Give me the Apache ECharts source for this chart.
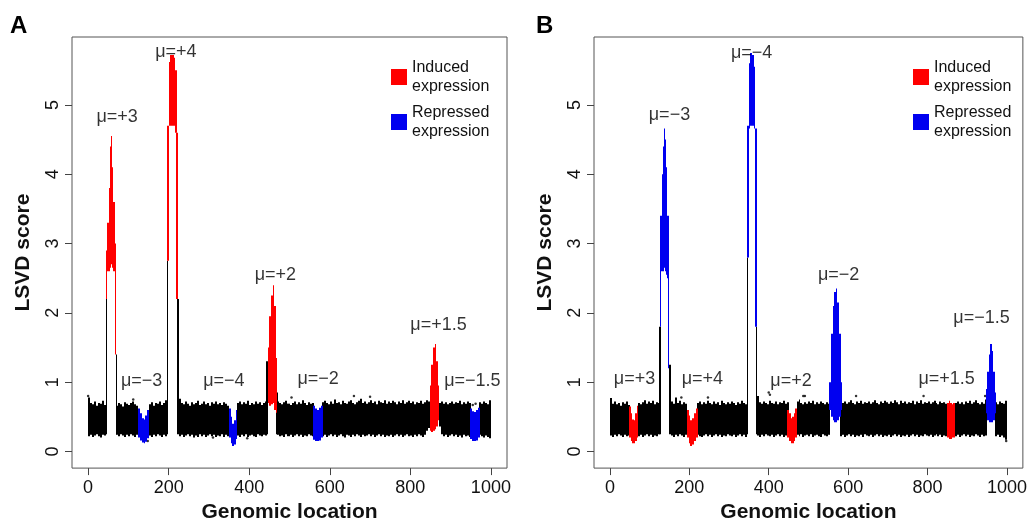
<!DOCTYPE html>
<html>
<head>
<meta charset="utf-8">
<script src="https://cdn.jsdelivr.net/npm/echarts@6/dist/echarts.min.js"></script>
<style>
html,body{margin:0;padding:0;background:#fff;}
#chart{width:1030px;height:528px;}
</style>
</head>
<body>
<div id="chart"></div>
<script>
// ---------------- DATA ----------------
// Background noise band, 5-unit bins (bin i covers [5i, 5i+5]); null = no points there
const bandHiA = [
0.78,0.7,0.68,0.72,0.66,0.7,0.69,0.73,0.67,null,
null,null,null,null,0.66,0.7,0.68,0.65,0.71,0.69,
0.67,0.7,0.72,0.68,0.66,null,null,null,null,null,
0.68,0.71,0.66,0.7,0.69,0.72,0.67,0.7,0.74,null,
null,null,null,null,null,0.76,0.7,0.68,0.72,0.69,
0.66,0.71,0.68,0.7,0.73,0.67,0.69,0.72,0.68,0.7,
0.66,0.71,0.69,0.72,0.68,0.7,0.67,0.71,0.69,0.66,
null,null,null,null,0.7,0.72,0.68,0.71,0.69,0.73,
0.67,0.7,0.68,0.72,0.69,0.71,0.67,0.7,0.72,null,
null,null,null,null,0.72,0.7,0.68,0.71,0.73,0.69,
0.67,0.7,0.72,0.68,0.71,0.69,0.74,0.7,0.67,0.71,
0.69,0.7,null,null,null,null,0.71,0.73,0.7,0.68,
0.72,0.69,0.75,0.7,0.71,0.68,0.73,0.7,0.69,0.72,
0.74,0.7,0.68,0.71,0.73,0.76,0.7,0.72,0.69,0.71,
0.74,0.7,0.72,0.68,0.73,0.71,0.7,0.74,0.69,0.72,
0.7,0.73,0.71,0.68,0.72,0.7,0.74,0.69,0.71,0.73,
0.7,0.72,0.68,0.71,0.7,0.73,0.69,0.71,0.74,0.72,
null,null,null,null,0.7,0.72,0.69,0.71,0.68,0.7,
0.72,0.69,0.71,0.7,0.73,0.68,0.71,0.69,0.72,0.7,
null,null,null,null,0.71,0.69,0.72,0.7,0.68,0.74
];
const bandLoA = [
0.22,0.24,0.21,0.23,0.25,0.22,0.2,0.24,0.23,null,
null,null,null,null,0.24,0.22,0.25,0.23,0.21,0.24,
0.22,0.25,0.23,0.21,0.24,null,null,null,null,null,
0.23,0.21,0.24,0.22,0.25,0.23,0.21,0.24,0.22,null,
null,null,null,null,null,0.22,0.24,0.21,0.23,0.25,
0.22,0.24,0.2,0.23,0.21,0.25,0.22,0.24,0.21,0.23,
0.25,0.22,0.24,0.21,0.23,0.22,0.25,0.21,0.24,0.22,
null,null,null,null,0.23,0.21,0.24,0.22,0.25,0.21,
0.23,0.24,0.22,0.21,0.25,0.23,0.22,0.24,0.23,null,
null,null,null,null,0.24,0.22,0.23,0.21,0.25,0.22,
0.24,0.21,0.23,0.25,0.22,0.24,0.21,0.23,0.22,0.25,
0.23,0.22,null,null,null,null,0.22,0.24,0.21,0.23,
0.25,0.22,0.24,0.21,0.23,0.25,0.22,0.2,0.24,0.23,
0.21,0.24,0.22,0.25,0.23,0.21,0.24,0.22,0.23,0.25,
0.22,0.24,0.21,0.23,0.25,0.22,0.24,0.21,0.23,0.22,
0.24,0.21,0.23,0.25,0.22,0.24,0.21,0.23,0.25,0.22,
0.23,0.21,0.24,0.22,0.25,0.23,0.21,0.24,0.3,0.34,
null,null,null,null,0.36,0.25,0.22,0.24,0.21,0.23,
0.25,0.22,0.24,0.21,0.23,0.2,0.24,0.22,0.23,0.21,
null,null,null,null,0.24,0.22,0.2,0.23,0.21,0.19
];
const bandHiB = [
0.77,0.69,0.72,0.68,0.7,0.66,0.71,0.69,0.72,0.67,
null,null,null,null,0.7,0.68,0.71,0.74,0.69,0.72,
0.7,0.73,0.68,0.71,0.7,null,null,null,null,null,
null,0.72,0.69,0.78,0.7,0.73,0.68,0.71,0.69,null,
null,null,null,null,0.7,0.72,0.68,0.71,0.69,0.73,
0.7,0.68,0.72,0.69,0.71,0.67,0.73,0.7,0.68,0.71,
0.69,0.72,0.7,0.67,0.71,0.69,0.73,0.7,0.68,null,
null,null,null,null,0.8,0.71,0.69,0.72,0.7,0.68,
0.73,0.7,0.69,0.72,0.68,0.71,0.7,0.73,0.69,0.71,
null,null,null,null,0.72,0.75,0.7,0.68,0.71,0.69,
0.72,0.7,0.73,0.68,0.71,0.69,0.72,0.7,0.68,0.71,
0.69,null,null,null,null,null,0.73,0.7,0.72,0.69,
0.71,0.74,0.7,0.68,0.72,0.7,0.73,0.69,0.71,0.7,
0.72,0.69,0.71,0.74,0.7,0.68,0.72,0.7,0.73,0.71,
0.69,0.72,0.7,0.74,0.71,0.68,0.73,0.7,0.72,0.69,
0.71,0.7,0.73,0.68,0.72,0.7,0.74,0.69,0.71,0.7,
0.72,0.69,0.71,0.73,0.7,0.68,0.72,0.7,0.71,0.69,
null,null,null,null,0.7,0.72,0.69,0.71,0.68,0.72,
0.7,0.73,0.69,0.71,0.74,0.7,0.68,0.71,0.69,0.72,
null,null,null,null,0.71,0.68,0.72,0.7,0.69,0.73
];
const bandLoB = [
0.23,0.21,0.24,0.22,0.25,0.23,0.21,0.24,0.22,0.23,
null,null,null,null,0.22,0.24,0.21,0.23,0.25,0.22,
0.24,0.21,0.23,0.22,0.25,null,null,null,null,null,
null,0.23,0.21,0.24,0.22,0.25,0.23,0.21,0.24,null,
null,null,null,null,0.24,0.22,0.21,0.23,0.25,0.22,
0.24,0.21,0.23,0.25,0.22,0.24,0.21,0.23,0.22,0.25,
0.23,0.22,0.24,0.21,0.23,0.25,0.22,0.24,0.21,null,
null,null,null,null,0.23,0.21,0.24,0.22,0.25,0.23,
0.22,0.24,0.21,0.23,0.25,0.22,0.24,0.21,0.23,0.22,
null,null,null,null,0.24,0.22,0.25,0.21,0.23,0.24,
0.22,0.25,0.21,0.23,0.24,0.22,0.21,0.25,0.23,0.22,
0.24,null,null,null,null,null,0.22,0.24,0.21,0.23,
0.25,0.22,0.24,0.21,0.23,0.22,0.24,0.21,0.25,0.23,
0.22,0.24,0.21,0.23,0.25,0.22,0.24,0.21,0.23,0.22,
0.24,0.21,0.23,0.25,0.22,0.24,0.21,0.23,0.22,0.24,
0.21,0.23,0.25,0.22,0.24,0.21,0.23,0.22,0.25,0.23,
0.22,0.24,0.21,0.23,0.25,0.22,0.24,0.21,0.23,0.22,
null,null,null,null,0.22,0.24,0.21,0.23,0.25,0.22,
0.24,0.21,0.23,0.22,0.25,0.23,0.21,0.24,0.22,0.23,
null,null,null,null,0.22,0.24,0.21,0.23,0.2,0.17
];

// Signal clusters: [fromLocation, toLocation, lowScore, highScore, class]
// class: 0 = not called, 1 = induced, 2 = repressed
const clustersA = [
  // mu=+3
  [44,47,0.25,2.2,0],[45,48,2.2,2.7,1],
  [45,48,2.6,2.9,1],[48,51,2.6,3.3,1],[51,54,2.6,3.8,1],[54,57,2.65,4.4,1],[57,60,2.7,4.55,1],[60,63,2.65,4.1,1],[63,66,2.6,3.6,1],[66,69,2.5,3.0,1],
  [66,69,1.4,2.6,1],[68,71,0.25,1.4,0],
  // mu=-3
  [125,130,0.2,0.62,2],[130,134,0.16,0.55,2],[134,138,0.13,0.48,2],[138,142,0.12,0.46,2],[142,146,0.14,0.52,2],[146,150,0.19,0.6,2],
  // mu=+4
  [195,199,0.25,2.75,0],[196,200,2.75,4.7,1],
  [200,204,4.7,5.62,1],[204,208,4.7,5.72,1],[208,212,4.7,5.72,1],[212,216,4.7,5.68,1],[216,220,4.6,5.5,1],
  [219,223,2.2,4.6,1],[220,225,0.25,2.2,0],
  // mu=-4
  [350,354,0.2,0.62,2],[354,358,0.12,0.5,2],[358,362,0.08,0.4,2],[362,366,0.1,0.45,2],[366,370,0.18,0.6,2],
  // mu=+2
  [442,447,0.25,1.3,0],
  [446,450,0.7,1.5,1],[450,454,0.66,1.95,1],[454,458,0.68,2.25,1],[458,462,0.7,2.4,1],[462,466,0.6,2.1,1],[466,469,0.56,1.35,1],
  [467,471,0.25,0.85,0],
  // mu=-2
  [558,563,0.17,0.66,2],[563,568,0.15,0.62,2],[568,573,0.15,0.6,2],[573,578,0.16,0.63,2],[578,582,0.2,0.66,2],
  // mu=+1.5
  [848,852,0.3,0.95,1],[852,856,0.28,1.25,1],[856,860,0.3,1.5,1],[860,864,0.32,1.55,1],[864,868,0.36,1.3,1],[868,871,0.45,0.95,1],
  // mu=-1.5
  [948,953,0.18,0.62,2],[953,958,0.15,0.58,2],[958,963,0.15,0.57,2],[963,968,0.16,0.6,2],[968,972,0.2,0.63,2]
];
const clustersB = [
  // mu=+3
  [48,52,0.2,0.65,1],[52,56,0.15,0.55,1],[56,60,0.12,0.46,1],[60,64,0.12,0.45,1],[64,68,0.15,0.55,1],[68,71,0.2,0.66,1],
  // mu=-3
  [124,128,0.25,1.8,0],[125,129,1.8,2.7,2],
  [127,130,2.6,3.4,2],[130,133,2.6,4.0,2],[133,136,2.6,4.4,2],[136,139,2.65,4.66,2],[139,142,2.6,4.5,2],[142,145,2.55,4.1,2],[145,148,2.5,3.4,2],
  [146,150,1.2,2.8,2],[150,155,0.25,1.25,0],
  // mu=+4
  [194,198,0.2,0.6,1],[198,203,0.12,0.52,1],[203,208,0.08,0.45,1],[208,213,0.1,0.48,1],[213,218,0.15,0.55,1],[218,222,0.2,0.62,1],
  // mu=-4
  [345,349,0.25,2.8,0],[346,350,2.8,4.7,2],
  [350,354,4.66,5.6,2],[354,358,4.7,5.75,2],[358,362,4.7,5.72,2],[362,366,4.66,5.55,2],
  [366,370,1.8,4.66,2],[367,371,0.25,1.8,0],
  // mu=+2
  [447,451,0.2,0.6,1],[451,455,0.15,0.55,1],[455,459,0.12,0.48,1],[459,463,0.12,0.5,1],[463,467,0.15,0.55,1],[467,471,0.2,0.62,1],
  // mu=-2
  [551,555,0.25,0.8,0],
  [553,557,0.6,1.0,2],[557,561,0.5,1.7,2],[561,565,0.45,2.1,2],[565,569,0.42,2.3,2],[569,573,0.42,2.35,2],[573,577,0.45,2.15,2],[577,581,0.5,1.7,2],[581,584,0.6,1.0,2],
  [582,586,0.25,0.7,0],
  // mu=+1.5
  [849,853,0.2,0.7,1],[853,857,0.18,0.73,1],[857,861,0.18,0.7,1],[861,865,0.2,0.68,1],[865,870,0.2,0.7,1],
  // mu=-1.5
  [944,948,0.25,0.75,0],
  [946,950,0.55,0.9,2],[950,954,0.45,1.15,2],[954,958,0.42,1.4,2],[958,962,0.42,1.55,2],[962,966,0.42,1.45,2],[966,970,0.45,1.15,2],[970,973,0.55,0.85,2],
  [971,975,0.25,0.7,0]
];

// Stray single points
const outliersA = [[0,0.8],[112,0.75],[148,0.15],[310,0.2],[395,0.19],[505,0.78],[660,0.8],[700,0.79],[955,0.67],[962,0.69]];
const outliersB = [[400,0.85],[403,0.82],[180,0.78],[247,0.78],[487,0.8],[491,0.8],[620,0.8],[790,0.8],[945,0.8],[998,0.15]];

// Annotations: text, location, score
const labelTextA = ['μ=+3','μ=+4','μ=−3','μ=−4','μ=+2','μ=−2','μ=+1.5','μ=−1.5'];
const labelXA    = [72, 218, 133, 337, 465, 571, 870, 954];
const labelYA    = [4.83, 5.76, 1.01, 1.01, 2.54, 1.04, 1.83, 1.01];
const labelTextB = ['μ=+3','μ=−3','μ=+4','μ=−4','μ=+2','μ=−2','μ=+1.5','μ=−1.5'];
const labelXB    = [62, 150, 233, 357, 456, 576, 848, 936];
const labelYB    = [1.04, 4.85, 1.04, 5.75, 1.01, 2.54, 1.04, 1.92];

const xTicks = [0, 200, 400, 600, 800, 1000];
const yTicks = [0, 1, 2, 3, 4, 5];
const classNames = ['', 'Induced expression', 'Repressed expression'];
const BIN = 5;

// ---------------- CHART ----------------
const FONT = '"Liberation Sans", Arial, Helvetica, sans-serif';
const RED = '#ff0000', BLUE = '#0000f0', BLACK = '#000000';

function bandData(hi, lo) {
  const out = [];
  for (let i = 0; i < hi.length; i++) {
    if (hi[i] == null || lo[i] == null) continue;
    out.push([i * BIN, (i + 1) * BIN, lo[i], hi[i]]);
  }
  return out;
}
function clusterData(list, cls) {
  return list.filter(d => d[4] === cls).map(d => [d[0], d[1], d[2], d[3]]);
}
function renderRect(params, api) {
  const x0 = api.value(0), x1 = api.value(1), lo = api.value(2), hi = api.value(3);
  const p0 = api.coord([x0, hi]);
  const p1 = api.coord([x1, lo]);
  const xa = Math.round(p0[0]), xb = Math.round(p1[0]);
  return {
    type: 'rect',
    shape: { x: xa, y: p0[1], width: Math.max(xb - xa, 1), height: Math.max(p1[1] - p0[1], 1) },
    style: { fill: api.visual('color') }
  };
}
function rectSeries(name, idx, data, color, z) {
  return {
    type: 'custom', name: name, xAxisIndex: idx, yAxisIndex: idx,
    renderItem: renderRect, data: data, z: z,
    encode: { x: [0, 1], y: [2, 3] },
    itemStyle: { color: color }, clip: true, silent: true
  };
}
function labelSeries(idx, texts, xs, ys) {
  return {
    type: 'scatter', xAxisIndex: idx, yAxisIndex: idx, symbolSize: 0, silent: true, z: 10,
    data: texts.map((t, i) => ({ value: [xs[i], ys[i]], name: t })),
    label: { show: true, position: 'inside', formatter: '{b}', fontSize: 18, color: '#000', fontFamily: FONT }
  };
}
function outlierSeries(idx, pts) {
  return {
    type: 'scatter', xAxisIndex: idx, yAxisIndex: idx, symbolSize: 2.5, silent: true, z: 3,
    itemStyle: { color: BLACK }, data: pts
  };
}

const grids = [
  { left: 72, top: 37, width: 435, height: 436 },
  { left: 594, top: 37, width: 435, height: 436 }
];

function xAxis(idx) {
  return {
    gridIndex: idx, type: 'value', min: -40, max: 1040,
    axisLine: { show: false, onZero: false }, splitLine: { show: false },
    axisTick: { show: true, inside: false, customValues: xTicks, length: 7, lineStyle: { color: '#444' } },
    axisLabel: { customValues: xTicks, formatter: v => String(v), fontSize: 18, color: '#111', margin: 11, fontFamily: FONT },
    name: 'Genomic location', nameLocation: 'middle', nameGap: 31,
    nameTextStyle: { fontSize: 21, fontWeight: 'bold', color: '#111', fontFamily: FONT }
  };
}
function yAxis(idx) {
  return {
    gridIndex: idx, type: 'value', min: -0.24, max: 5.98,
    axisLine: { show: false, onZero: false }, splitLine: { show: false },
    axisTick: { show: true, inside: false, customValues: yTicks, length: 7, lineStyle: { color: '#444' } },
    axisLabel: { customValues: yTicks, formatter: v => String(v), fontSize: 18, color: '#111', rotate: 90, margin: 10, fontFamily: FONT },
    name: 'LSVD score', nameLocation: 'middle', nameGap: 38, nameRotate: 90,
    nameTextStyle: { fontSize: 21, fontWeight: 'bold', color: '#111', fontFamily: FONT }
  };
}

const series = [];
[[bandHiA, bandLoA, clustersA, outliersA, labelTextA, labelXA, labelYA],
 [bandHiB, bandLoB, clustersB, outliersB, labelTextB, labelXB, labelYB]].forEach((p, idx) => {
  series.push(rectSeries('noise' + idx, idx, bandData(p[0], p[1]), BLACK, 2));
  series.push(rectSeries('noise' + idx, idx, clusterData(p[2], 0), BLACK, 2));
  series.push(outlierSeries(idx, p[3]));
  series.push(rectSeries(classNames[1], idx, clusterData(p[2], 1), RED, 4));
  series.push(rectSeries(classNames[2], idx, clusterData(p[2], 2), BLUE, 4));
  series.push(labelSeries(idx, p[4], p[5], p[6]));
});

function legend(left) {
  return {
    data: [
      { name: classNames[1], itemStyle: { color: RED } },
      { name: classNames[2], itemStyle: { color: BLUE } }
    ],
    left: left, top: 58, orient: 'vertical', icon: 'rect',
    itemWidth: 16, itemHeight: 16, itemGap: 7, padding: 0, selectedMode: false,
    formatter: n => n.replace(' ', '\n'),
    textStyle: { fontSize: 16, lineHeight: 19, color: '#111', fontFamily: FONT }
  };
}

const chart = echarts.init(document.getElementById('chart'), null, { renderer: 'canvas' });
chart.setOption({
  animation: false,
  backgroundColor: '#fff',
  grid: grids.map(g => Object.assign({ show: true, borderColor: '#555', borderWidth: 1, backgroundColor: 'transparent' }, g)),
  xAxis: [xAxis(0), xAxis(1)],
  yAxis: [yAxis(0), yAxis(1)],
  legend: [legend(391), legend(913)],
  series: series,
  graphic: [
    { type: 'text', left: 10, top: 14, style: { text: 'A', font: 'bold 24px ' + FONT, fill: '#000' } },
    { type: 'text', left: 536, top: 14, style: { text: 'B', font: 'bold 24px ' + FONT, fill: '#000' } }
  ]
});
</script>
</body>
</html>
